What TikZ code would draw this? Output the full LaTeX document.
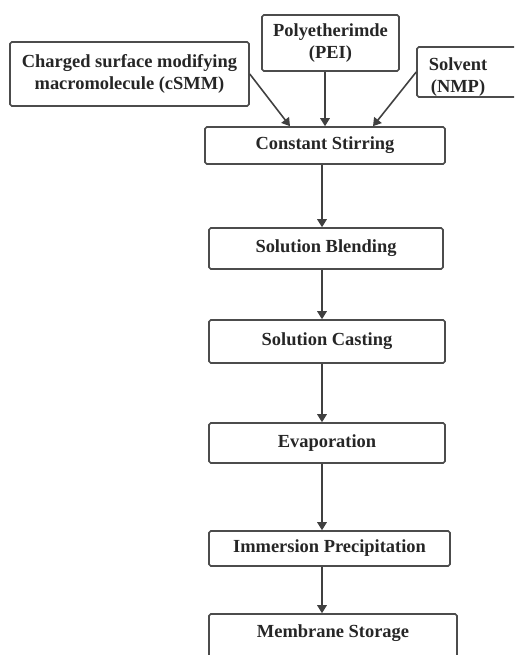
\documentclass[tikz,border=0pt]{standalone}
\usepackage{fontspec}
\setmainfont{Liberation Serif}
\usetikzlibrary{arrows.meta}

\tikzset{
  stage/.style={draw=black!70, line width=0.9pt, rounded corners=1pt, align=center,
    inner sep=0pt, font=\bfseries\fontsize{10.5}{12.5}\selectfont, text=black!85},
  tag/.style={align=center, inner sep=0pt, font=\bfseries\fontsize{10.5}{12.5}\selectfont, text=black!85},
  flow/.style={draw=black!75, line width=0.9pt, -{Triangle[length=0.16cm,width=0.19cm]}}
}

\begin{document}
\begin{tikzpicture}[x=0.02cm, y=-0.02cm]
\clip (0,0) rectangle (514,655);
% inputs
\node[stage, minimum width=4.78cm, minimum height=1.28cm] (csmm) at (129.5,74) {Charged surface modifying\\macromolecule (cSMM)};
\node[stage, minimum width=2.74cm, minimum height=1.12cm] (pei) at (330.5,43) {Polyetherimde\\(PEI)};
\node[stage, minimum width=2.26cm, minimum height=1cm,
  label={[tag, xshift=-0.31cm, yshift=-0.1cm]center:Solvent\\(NMP)}] (solv) at (473.5,72) {};
% process steps
\node[stage, minimum width=4.8cm, minimum height=0.74cm] (stir) at (325,145.5) {Constant Stirring};
\node[stage, minimum width=4.68cm, minimum height=0.82cm] (blend) at (326,248.5) {Solution Blending};
\node[stage, minimum width=4.72cm, minimum height=0.86cm] (cast) at (327,341.5) {Solution Casting};
\node[stage, minimum width=4.72cm, minimum height=0.8cm] (evap) at (327,443) {Evaporation};
\node[stage, minimum width=4.82cm, minimum height=0.7cm] (imm) at (329.5,548.5) {Immersion Precipitation};
\node[stage, minimum width=4.96cm, minimum height=1.6cm,
  label={[tag, anchor=north, yshift=-0.22cm]north:Membrane Storage}] (mem) at (333,654) {};
\coordinate (spine) at (322,0);
% arrows
\draw[flow] (csmm.east) -- ([xshift=-0.7cm]stir.north);
\draw[flow] (pei.south -| stir.north) -- (stir.north);
\draw[flow] (solv.west) -- ([xshift=0.96cm]stir.north);
\foreach \a/\b in {stir/blend, blend/cast, cast/evap, evap/imm, imm/mem}
  \draw[flow] (\a.south -| spine) -- (\b.north -| spine);
\end{tikzpicture}
\end{document}
